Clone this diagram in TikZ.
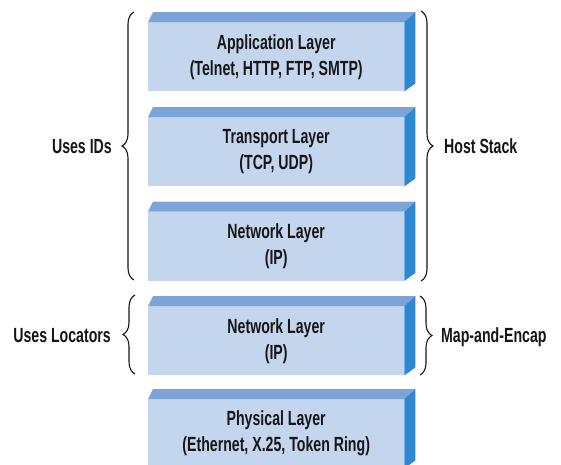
\documentclass[tikz,border=0pt]{standalone}
\usepackage{fontspec}
\newfontfamily\condfont[FakeStretch=0.69]{Liberation Sans}
\usetikzlibrary{decorations.pathreplacing,calc}
\definecolor{frontc}{HTML}{C4D5EE}
\definecolor{bandc}{HTML}{7DA4D8}
\definecolor{sidec}{HTML}{3087D2}
\definecolor{inkc}{HTML}{161616}
\begin{document}
\begin{tikzpicture}[x=1pt,y=-1pt,
  layerbox/.style={fill=frontc, minimum width=256pt, minimum height=69pt, inner sep=0pt,
    anchor=north west, align=center, text=inkc,
    font=\condfont\bfseries\fontsize{20.5}{26}\selectfont},
  sidelabel/.style={text=inkc, inner sep=0pt, font=\condfont\bfseries\fontsize{20.5}{23}\selectfont},
  bracepath/.style={draw=inkc, line width=1.1pt, decorate, decoration={brace, amplitude=12pt}}]
\clip (0,0) rectangle (561,464);
\fill[white] (0,0) rectangle (561,464);
% layer boxes (front faces)
\node[layerbox] (app) at (148,22) {Application Layer\\(Telnet, HTTP, FTP, SMTP)};
\node[layerbox] (tra) at (148,117) {Transport Layer\\(TCP, UDP)};
\node[layerbox] (nwa) at (148,211.5) {Network Layer\\(IP)};
\node[layerbox] (nwb) at (148,306) {Network Layer\\(IP)};
\node[layerbox] (phy) at (148,399) {Physical Layer\\(Ethernet, X.25, Token Ring)};
% top bands and side faces
\foreach \n in {app,tra,nwa,nwb,phy}{
  \fill[bandc] (\n.north west) -- ++(5,-10) -- ($(\n.north east)+(11,-10)$) -- (\n.north east) -- cycle;
  \fill[sidec] (\n.north east) -- ++(11,-10) -- ($(\n.south east)+(11,-8)$) -- (\n.south east) -- cycle;
}
% brace end points
\coordinate (lat) at (134,12);
\coordinate (lab) at (134,280);
\coordinate (rat) at (421,11);
\coordinate (rab) at (421,281);
\coordinate (lbt) at (135,295);
\coordinate (lbb) at (135,374);
\coordinate (rbt) at (420,296);
\coordinate (rbb) at (420,375);
\draw[bracepath] (lab) -- (lat);
\draw[bracepath] (rat) -- (rab);
\draw[bracepath] (lbb) -- (lbt);
\draw[bracepath] (rbt) -- (rbb);
% labels
\node[sidelabel, anchor=base east] (ids) at (112,153) {Uses IDs};
\node[sidelabel, anchor=base west] (host) at (444,153) {Host Stack};
\node[sidelabel, anchor=base east] (loc) at (111,342) {Uses Locators};
\node[sidelabel, anchor=base west] (map) at (441,342) {Map-and-Encap};
\end{tikzpicture}
\end{document}
